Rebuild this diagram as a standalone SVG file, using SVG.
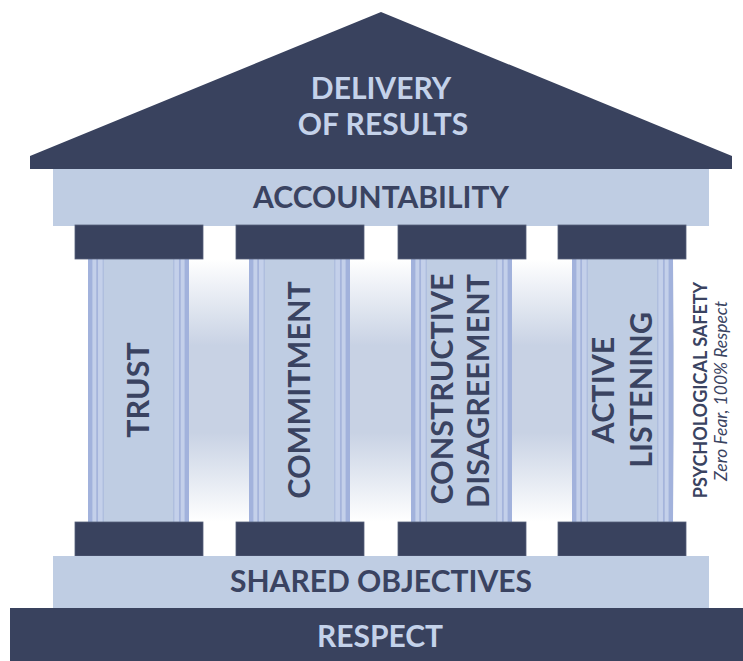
<svg xmlns="http://www.w3.org/2000/svg" width="743" height="661" viewBox="0 0 743 661">
  <defs>
    <linearGradient id="bg" x1="0" y1="0" x2="0" y2="1">
      <stop offset="0" stop-color="#ffffff"/>
      <stop offset="0.33" stop-color="#c8d2e4"/>
      <stop offset="0.66" stop-color="#c8d2e4"/>
      <stop offset="1" stop-color="#ffffff"/>
    </linearGradient>
    <g id="shaft">
      <rect x="0" y="0" width="101" height="263" fill="#bfcde3"/>
      <rect x="0" y="0" width="4.6" height="263" fill="#a2b2dc"/>
      <rect x="4.6" y="0" width="3.7" height="263" fill="#c4d0ea"/>
      <rect x="8.3" y="0" width="1.8" height="263" fill="#a5b4dc"/>
      <rect x="10.1" y="0" width="4.6" height="263" fill="#c4d0ea"/>
      <rect x="14.7" y="0" width="1" height="263" fill="#a9b8dc"/>
      <rect x="96.4" y="0" width="4.6" height="263" fill="#a2b2dc"/>
      <rect x="92.7" y="0" width="3.7" height="263" fill="#c4d0ea"/>
      <rect x="90.9" y="0" width="1.8" height="263" fill="#a5b4dc"/>
      <rect x="86.3" y="0" width="4.6" height="263" fill="#c4d0ea"/>
      <rect x="85.3" y="0" width="1" height="263" fill="#a9b8dc"/>
    </g>
  </defs>
  <style>
    .navy { fill: #39425e; stroke: #56607a; stroke-width: 0.8; }
    .light { fill: #bfcde3; }
    .t { font-family: Lato, "Liberation Sans", sans-serif; font-weight: 700; text-anchor: middle; }
    .tl { fill: #c4d2ea; font-size: 30px; }
    .td { fill: #3a4361; font-size: 30px; }
    .tp { fill: #3a4361; font-size: 30.5px; }
    .side { font-family: Lato, "Liberation Sans", sans-serif; text-anchor: middle; fill: #3a4361; }
  </style>
  <rect width="743" height="661" fill="#ffffff"/>
  <rect x="88" y="259" width="586" height="263" fill="url(#bg)"/>

  <g id="roof">
    <polygon points="30,169 30,156 381,12 732,156 732,169" fill="#39425e"/>
    <text class="t tl" x="381" y="99">DELIVERY</text>
    <text class="t tl" x="383" y="135">OF RESULTS</text>
  </g>

  <g id="accountability">
    <rect class="light" x="53" y="169" width="656" height="57"/>
    <text class="t td" x="381" y="208">ACCOUNTABILITY</text>
  </g>

  <g id="pillar-trust">
    <use href="#shaft" x="88" y="259"/>
    <rect class="navy" x="75" y="225" width="128" height="34"/>
    <rect class="navy" x="75" y="522" width="128" height="34"/>
    <text class="t tp" transform="translate(149,390) rotate(-90)">TRUST</text>
  </g>

  <g id="pillar-commitment">
    <use href="#shaft" x="249" y="259"/>
    <rect class="navy" x="236" y="225" width="128" height="34"/>
    <rect class="navy" x="236" y="522" width="128" height="34"/>
    <text class="t tp" transform="translate(310,390) rotate(-90)">COMMITMENT</text>
  </g>

  <g id="pillar-constructive-disagreement">
    <use href="#shaft" x="411" y="259"/>
    <rect class="navy" x="398" y="225" width="128" height="34"/>
    <rect class="navy" x="398" y="522" width="128" height="34"/>
    <text class="t tp" transform="translate(453,389) rotate(-90)">CONSTRUCTIVE</text>
    <text class="t tp" transform="translate(489,391) rotate(-90)">DISAGREEMENT</text>
  </g>

  <g id="pillar-active-listening">
    <use href="#shaft" x="572" y="259"/>
    <rect class="navy" x="558" y="225" width="128" height="34"/>
    <rect class="navy" x="558" y="522" width="128" height="34"/>
    <text class="t tp" transform="translate(614,390) rotate(-90)">ACTIVE</text>
    <text class="t tp" transform="translate(652,390) rotate(-90)">LISTENING</text>
  </g>

  <g id="psychological-safety">
    <text class="side" font-size="18" font-weight="700" transform="translate(707,390) rotate(-90)">PSYCHOLOGICAL SAFETY</text>
    <text class="side" font-size="17.5" font-style="italic" transform="translate(727,391) rotate(-90)">Zero Fear, 100% Respect</text>
  </g>

  <g id="shared-objectives">
    <rect class="light" x="53" y="556" width="656" height="52"/>
    <text class="t td" x="381" y="592">SHARED OBJECTIVES</text>
  </g>

  <g id="respect">
    <rect x="10" y="608" width="733" height="53" fill="#39425e"/>
    <text class="t tl" x="380" y="647" font-size="31">RESPECT</text>
  </g>

  <g id="connectors"/>
</svg>
